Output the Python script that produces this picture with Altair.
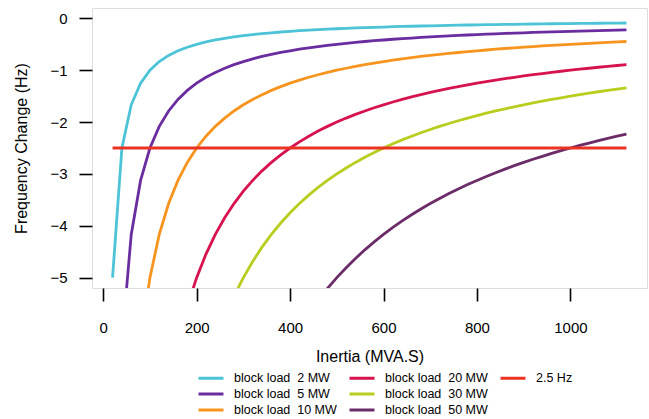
import altair as alt
import pandas as pd

# Inertia values (MVA.s)
inertia = [20, 40, 60, 80, 100, 120, 140, 160, 180, 200, 220, 240, 260, 280, 300,
           320, 340, 360, 380, 400, 420, 440, 460, 480, 500, 520, 540, 560, 580, 600,
           620, 640, 660, 680, 700, 720, 740, 760, 780, 800, 820, 840, 860, 880, 900,
           920, 940, 960, 980, 1000, 1020, 1040, 1060, 1080, 1100, 1120]

load_2 = [-5.0, -2.5, -1.667, -1.25, -1.0, -0.833, -0.714, -0.625, -0.556, -0.5, -0.455, -0.417,
          -0.385, -0.357, -0.333, -0.313, -0.294, -0.278, -0.263, -0.25, -0.238, -0.227, -0.217,
          -0.208, -0.2, -0.192, -0.185, -0.179, -0.172, -0.167, -0.161, -0.156, -0.152, -0.147,
          -0.143, -0.139, -0.135, -0.132, -0.128, -0.125, -0.122, -0.119, -0.116, -0.114, -0.111,
          -0.109, -0.106, -0.104, -0.102, -0.1, -0.098, -0.096, -0.094, -0.093, -0.091, -0.089]
load_5 = [-12.5, -6.25, -4.167, -3.125, -2.5, -2.083, -1.786, -1.563, -1.389, -1.25, -1.136, -1.042,
          -0.962, -0.893, -0.833, -0.781, -0.735, -0.694, -0.658, -0.625, -0.595, -0.568, -0.543,
          -0.521, -0.5, -0.481, -0.463, -0.446, -0.431, -0.417, -0.403, -0.391, -0.379, -0.368,
          -0.357, -0.347, -0.338, -0.329, -0.321, -0.313, -0.305, -0.298, -0.291, -0.284, -0.278,
          -0.272, -0.266, -0.26, -0.255, -0.25, -0.245, -0.24, -0.236, -0.231, -0.227, -0.223]
load_10 = [-25.0, -12.5, -8.333, -6.25, -5.0, -4.167, -3.571, -3.125, -2.778, -2.5, -2.273, -2.083,
           -1.923, -1.786, -1.667, -1.563, -1.471, -1.389, -1.316, -1.25, -1.19, -1.136, -1.087,
           -1.042, -1.0, -0.962, -0.926, -0.893, -0.862, -0.833, -0.806, -0.781, -0.758, -0.735,
           -0.714, -0.694, -0.676, -0.658, -0.641, -0.625, -0.61, -0.595, -0.581, -0.568, -0.556,
           -0.543, -0.532, -0.521, -0.51, -0.5, -0.49, -0.481, -0.472, -0.463, -0.455, -0.446]
load_20 = [-50.0, -25.0, -16.667, -12.5, -10.0, -8.333, -7.143, -6.25, -5.556, -5.0, -4.545, -4.167,
           -3.846, -3.571, -3.333, -3.125, -2.941, -2.778, -2.632, -2.5, -2.381, -2.273, -2.174,
           -2.083, -2.0, -1.923, -1.852, -1.786, -1.724, -1.667, -1.613, -1.563, -1.515, -1.471,
           -1.429, -1.389, -1.351, -1.316, -1.282, -1.25, -1.22, -1.19, -1.163, -1.136, -1.111,
           -1.087, -1.064, -1.042, -1.02, -1.0, -0.98, -0.962, -0.943, -0.926, -0.909, -0.893]
load_30 = [-75.0, -37.5, -25.0, -18.75, -15.0, -12.5, -10.714, -9.375, -8.333, -7.5, -6.818, -6.25,
           -5.769, -5.357, -5.0, -4.688, -4.412, -4.167, -3.947, -3.75, -3.571, -3.409, -3.261,
           -3.125, -3.0, -2.885, -2.778, -2.679, -2.586, -2.5, -2.419, -2.344, -2.273, -2.206,
           -2.143, -2.083, -2.027, -1.974, -1.923, -1.875, -1.829, -1.786, -1.744, -1.705, -1.667,
           -1.63, -1.596, -1.563, -1.531, -1.5, -1.471, -1.442, -1.415, -1.389, -1.364, -1.339]
load_50 = [-125.0, -62.5, -41.667, -31.25, -25.0, -20.833, -17.857, -15.625, -13.889, -12.5, -11.364,
           -10.417, -9.615, -8.929, -8.333, -7.813, -7.353, -6.944, -6.579, -6.25, -5.952, -5.682,
           -5.435, -5.208, -5.0, -4.808, -4.63, -4.464, -4.31, -4.167, -4.032, -3.906, -3.788,
           -3.676, -3.571, -3.472, -3.378, -3.289, -3.205, -3.125, -3.049, -2.976, -2.907, -2.841,
           -2.778, -2.717, -2.66, -2.604, -2.551, -2.5, -2.451, -2.404, -2.358, -2.315, -2.273, -2.232]

series_names = ["block load\u00a0 2 MW", "block load\u00a0 5 MW", "block load\u00a0 10 MW",
                "block load\u00a0 20 MW", "block load\u00a0 30 MW", "block load\u00a0 50 MW"]
series_values = [load_2, load_5, load_10, load_20, load_30, load_50]
series_colors = ["#4CC3D6", "#6A2D9F", "#F7941E", "#D6134E", "#B8CD1E", "#6B2C68"]

threshold_name = "2.5 Hz"
threshold_x = [20, 1120]
threshold_y = [-2.5, -2.5]
threshold_color = "#EB3323"

# invisible placeholder so the legend grid fills column by column (3 x 3)
blank_name = "\u00a0"

rows = []
for name, vals in zip(series_names, series_values):
    for h, v in zip(inertia, vals):
        rows.append({"inertia": h, "df": v, "series": name})
for h, v in zip(threshold_x, threshold_y):
    rows.append({"inertia": h, "df": v, "series": threshold_name})
df = pd.DataFrame(rows)

legend_domain = series_names + [threshold_name, blank_name]
legend_range = series_colors + [threshold_color, "rgba(0,0,0,0)"]

font = "Liberation Sans"

chart = alt.Chart(df).mark_line(strokeWidth=2.8, clip=True).encode(
    x=alt.X("inertia:Q",
            scale=alt.Scale(domain=[-24, 1164], nice=False, zero=False),
            axis=alt.Axis(title="Inertia (MVA.S)", values=[0, 200, 400, 600, 800, 1000],
                          format="d",
                          grid=False, domain=False, tickSize=13, tickWidth=1.6,
                          tickColor="black", labelPadding=19, labelFontSize=15,
                          labelColor="black", labelFont=font, titleFont=font,
                          titleFontSize=16, titleFontWeight="normal", titleColor="black",
                          titleY=68, titleBaseline="middle")),
    y=alt.Y("df:Q",
            scale=alt.Scale(domain=[-5.2, 0.2], nice=False, zero=False),
            axis=alt.Axis(title="Frequency Change (Hz)", values=[0, -1, -2, -3, -4, -5],
                          format="d",
                          grid=False, domain=False, tickSize=13, tickWidth=1.6,
                          tickColor="black", labelPadding=12, labelFontSize=15,
                          labelColor="black", labelFont=font, titleFont=font,
                          titleFontSize=16, titleFontWeight="normal", titleColor="black",
                          titleX=-71, titleY=140, titleAngle=270, titleBaseline="middle",
                          titleAlign="center")),
    color=alt.Color("series:N",
                    scale=alt.Scale(domain=legend_domain, range=legend_range),
                    legend=alt.Legend(title=None, orient="none", legendX=111, legendY=362,
                                      columns=3, symbolType="M-2,0H2", symbolSize=156,
                                      symbolStrokeWidth=3, labelFontSize=12.5, labelFont=font,
                                      labelColor="black", labelOffset=15, columnPadding=6,
                                      rowPadding=1, padding=0)),
    detail="series:N",
).properties(
    width=555, height=280, autosize="none",
    padding={"left": 92, "top": 8, "right": 2, "bottom": 131},
).configure_view(
    stroke="black", strokeWidth=2
).configure(background="white")

chart.save("out.html", embed_options={"renderer": "svg", "actions": False})
